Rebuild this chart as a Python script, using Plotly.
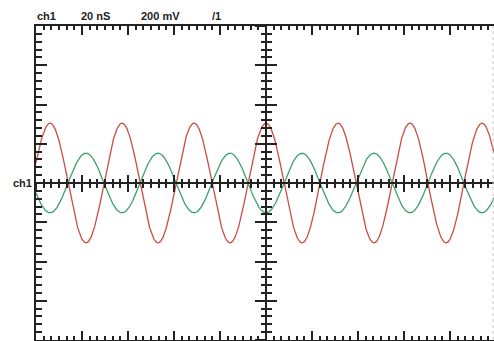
import numpy as np
import plotly.graph_objects as go

# Scope settings shown in the header
header_labels = ["ch1", "20 nS", "200 mV", "/1"]
time_per_div_ns = 20
volts_per_div_mv = 200
h_divs = 10
v_divs = 8
h_sub = 6   # minor ticks per horizontal division
v_sub = 5   # minor ticks per vertical division

# Displayed signals (peak amplitude in mV, common period in ns)
trace_names = ["ch1", "ch2"]
trace_amplitudes_mv = [305, -152]
trace_period_ns = 31.3
trace_colors = ["#cc4c44", "#3c9f70"]

W, H = 494, 341
ML, MT, MB = 36, 26, 1
plot_w = W - ML
plot_h = H - MT - MB
px_per_hdiv = 46.0

t_min = -h_divs / 2 * time_per_div_ns
t_max = t_min + plot_w / px_per_hdiv * time_per_div_ns
v_half = v_divs / 2 * volts_per_div_mv

# graticule tick positions
h_major = [k * time_per_div_ns for k in range(-h_divs // 2, h_divs // 2 + 1)]
h_minor = [k * time_per_div_ns / h_sub for k in range(-h_divs // 2 * h_sub, h_divs // 2 * h_sub + 1)
           if k % h_sub != 0]
v_major = [j * volts_per_div_mv for j in range(-v_divs // 2, v_divs // 2 + 1)]
v_minor = [j * volts_per_div_mv / v_sub for j in range(-v_divs // 2 * v_sub, v_divs // 2 * v_sub + 1)
           if j % v_sub != 0]

t = np.linspace(t_min, t_max, 3000)
fig = go.Figure()
for name, amp, col in zip(trace_names, trace_amplitudes_mv, trace_colors):
    y = amp * np.cos(2 * np.pi * t / trace_period_ns)
    fig.add_trace(go.Scatter(x=t, y=y, mode="lines", name=name,
                             line=dict(color=col, width=1.3), hoverinfo="skip"))

ink = "#222222"
font = dict(family="Liberation Sans, Arial", size=11, color="#1e1e1e")
centre_x_pos = (0 - t_min) / (t_max - t_min)

base = dict(showgrid=False, zeroline=False, showticklabels=False, tickmode="array",
            linecolor=ink, linewidth=1.6, tickcolor=ink, tickwidth=1.6)

layout_axes = {}
# (name, is_x, tickvals, ticklen, ticks side, extra)
axis_specs = [
    ("xaxis", True, h_major, 9, "inside", dict(range=[t_min, t_max], mirror="ticks", showline=True)),
    ("xaxis2", True, h_minor, 4, "inside", dict(overlaying="x", anchor="y", mirror="ticks", showline=False)),
    ("yaxis", False, v_major, 11, "inside", dict(range=[-v_half, v_half], showline=True)),
    ("yaxis2", False, v_minor, 6, "inside", dict(overlaying="y", anchor="x", showline=False)),
    # horizontal centre line, ticks crossing it
    ("xaxis3", True, h_major, 8, "outside", dict(overlaying="x", anchor="free", position=0.5, showline=True)),
    ("xaxis4", True, h_major, 8, "inside", dict(overlaying="x", anchor="free", position=0.5, showline=False)),
    ("xaxis5", True, h_minor, 4, "outside", dict(overlaying="x", anchor="free", position=0.5, showline=False)),
    ("xaxis6", True, h_minor, 4, "inside", dict(overlaying="x", anchor="free", position=0.5, showline=False)),
    # vertical centre line, ticks crossing it
    ("yaxis3", False, v_major, 10, "outside", dict(overlaying="y", anchor="free", position=centre_x_pos, showline=True)),
    ("yaxis4", False, v_major, 10, "inside", dict(overlaying="y", anchor="free", position=centre_x_pos, showline=False)),
    ("yaxis5", False, v_minor, 5, "outside", dict(overlaying="y", anchor="free", position=centre_x_pos, showline=False)),
    ("yaxis6", False, v_minor, 5, "inside", dict(overlaying="y", anchor="free", position=centre_x_pos, showline=False)),
]
for name, is_x, vals, ln, side, extra in axis_specs:
    ax = dict(base, tickvals=vals, ticklen=ln, ticks=side, **extra)
    if name not in ("xaxis", "yaxis"):
        ax["matches"] = "x" if is_x else "y"
    ax["side"] = "bottom" if is_x else "left"
    layout_axes[name] = ax
    if name not in ("xaxis", "yaxis"):
        ref = name.replace("axis", "")
        fig.add_trace(go.Scatter(x=[None], y=[None],
                                 xaxis=ref if is_x else "x", yaxis="y" if is_x else ref,
                                 showlegend=False, hoverinfo="skip"))

annotations = []
header_x_px = [35, 79, 139, 210]
for txt, xp in zip(header_labels, header_x_px):
    annotations.append(dict(text="<b>%s</b>" % txt, xref="paper", yref="paper",
                            x=(xp - ML) / plot_w, y=1 + 10 / plot_h, xanchor="left",
                            yanchor="middle", showarrow=False, font=font))
annotations.append(dict(text="<b>ch1</b>", xref="paper", yref="y", x=-2 / plot_w, y=0,
                        xanchor="right", yanchor="middle", showarrow=False, font=font))

shapes = [dict(type="line", xref="paper", yref="paper", x0=0.998, x1=0.998, y0=0, y1=1,
               line=dict(color="#c8c8c8", width=1, dash="dot"))]

fig.update_layout(
    width=W, height=H, margin=dict(l=ML, r=0, t=MT, b=MB),
    paper_bgcolor="white", plot_bgcolor="white", showlegend=False,
    shapes=shapes, annotations=annotations, **layout_axes,
)

fig.write_html("out.html")
